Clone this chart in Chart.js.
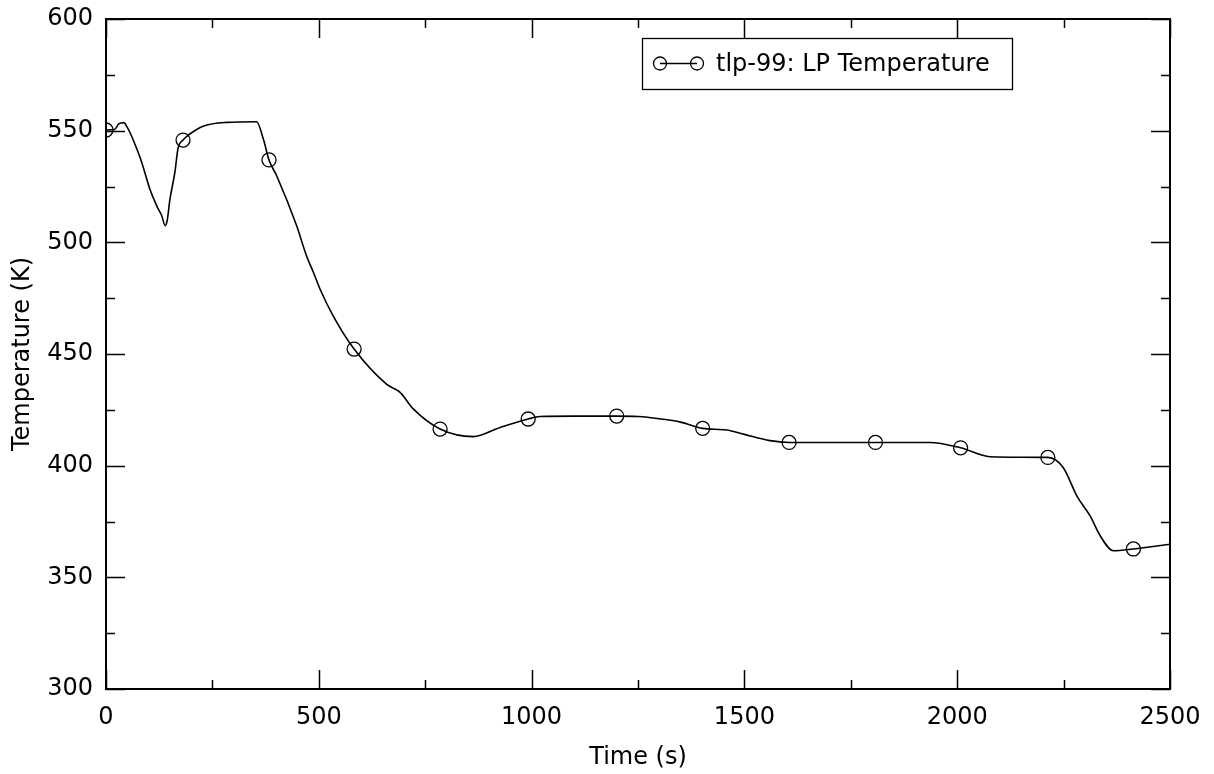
<!DOCTYPE html>
<html>
<head>
<meta charset="utf-8">
<script src="https://cdn.jsdelivr.net/npm/chart.js@4/dist/chart.umd.min.js"></script>
<style>
html,body{margin:0;padding:0;background:#fff;}
#wrap{width:1214px;height:774px;}
</style>
</head>
<body>
<div id="wrap"><canvas id="c" width="1214" height="774"></canvas></div>
<script>
// ---- data ----
const seriesLabel = 'tlp-99: LP Temperature';
const lineTimes = [0,20,30,42,50,56,70,84,103,120,131,139,144,150,162,169,197,228,284,354,370,401,448,471,487,503,534,659,691,722,863,926,1020,1100,1250,1300,1350,1458,1500,1560,1700,1936,2077,2150,2249,2281,2312,2336,2367,2460,2500];
const lineTemps = [550.3,550.5,553,553.6,551.5,549.3,543,535.8,523.9,516,511.9,507.5,510,519,531.5,541.8,548.5,552,553.7,554,546,529.8,507.4,494,486.7,479,467,436.5,432.8,425.4,413,417.1,422,422.2,422,421,419.5,416,414,411.2,410.4,410.4,404,403.8,399.2,386.5,377.6,368.6,361.9,363.8,364.8];
const markerTimes = [0,181,383,583,785,992,1200,1402,1605,1808,2008,2213,2414];
const markerTemps = [550.3,545.8,536.9,452.2,416.4,420.9,422.2,416.7,410.4,410.4,408,403.7,362.7];
const xTickValues = [0,500,1000,1500,2000,2500];
const yTickValues = [300,350,400,450,500,550,600];
const xTitle = 'Time (s)';
const yTitle = 'Temperature (K)';

// merge line + marker points
const pts = [];
lineTimes.forEach((t,i)=>pts.push({x:t,y:lineTemps[i],m:false}));
markerTimes.forEach((t,i)=>pts.push({x:t,y:markerTemps[i],m:true}));
pts.sort((a,b)=>a.x-b.x);

const FONT = {family:'"DejaVu Sans", sans-serif', size:24};

const frameTicks = {
  id:'frameTicks',
  afterDatasetsDraw(chart){
    const {ctx, chartArea:a, scales:{x,y}} = chart;
    ctx.save();
    ctx.strokeStyle = '#000';
    ctx.lineWidth = 1.5;
    ctx.beginPath();
    for(let v=300; v<=600; v+=25){
      const py = Math.round(y.getPixelForValue(v))+0.5;
      const L = (v%50===0)?19:9;
      ctx.moveTo(a.left,py); ctx.lineTo(a.left+L,py);
      ctx.moveTo(a.right,py); ctx.lineTo(a.right-L,py);
    }
    for(let v=0; v<=2500; v+=250){
      const px = Math.round(x.getPixelForValue(v))+0.5;
      const L = (v%500===0)?19:9;
      ctx.moveTo(px,a.bottom); ctx.lineTo(px,a.bottom-L);
      ctx.moveTo(px,a.top); ctx.lineTo(px,a.top+L);
    }
    ctx.stroke();
    ctx.lineWidth = 2;
    ctx.strokeRect(a.left, a.top, a.right-a.left, a.bottom-a.top);
    // legend box
    const bx=642, by=38, bw=370, bh=51, cy=by+bh/2;
    ctx.lineWidth = 1.3;
    ctx.strokeRect(bx+0.5, by+0.5, bw, bh);
    ctx.beginPath();
    ctx.moveTo(660,cy); ctx.lineTo(697,cy);
    ctx.stroke();
    ctx.beginPath(); ctx.arc(660,cy,6.5,0,Math.PI*2); ctx.stroke();
    ctx.beginPath(); ctx.arc(697,cy,6.5,0,Math.PI*2); ctx.stroke();
    ctx.fillStyle='#000';
    ctx.font = '24px "DejaVu Sans", sans-serif';
    ctx.textBaseline='middle';
    ctx.textAlign='left';
    ctx.fillText(chart.data.datasets[0].label, 716, cy+1);
    ctx.restore();
  }
};

new Chart(document.getElementById('c'), {
  type:'line',
  data:{datasets:[{
    label: seriesLabel,
    data: pts,
    borderColor:'#000',
    borderWidth:1.6,
    cubicInterpolationMode:'monotone',
    fill:false,
    pointRadius: c => (c.raw && c.raw.m) ? 7 : 0,
    pointHoverRadius: 0,
    pointBorderColor:'#000',
    pointBackgroundColor:'rgba(0,0,0,0)',
    pointBorderWidth:1.3
  }]},
  options:{
    responsive:false,
    animation:false,
    events:[],
    layout:{padding:{top:19,right:44,left:0,bottom:0}},
    plugins:{legend:{display:false},tooltip:{enabled:false}},
    scales:{
      x:{
        type:'linear', min:0, max:2500,
        afterBuildTicks: s => { s.ticks = xTickValues.map(v=>({value:v})); },
        afterFit: s => { s.height = 85; s.paddingLeft = 0; s.paddingRight = 0; },
        grid:{display:false, drawTicks:false, tickLength:0},
        border:{display:false},
        ticks:{color:'#000', font:FONT, padding:14, maxRotation:0, autoSkip:false, callback: v => String(v)},
        title:{display:true, text:xTitle, color:'#000', font:FONT, padding:{top:0,bottom:2}}
      },
      y:{
        type:'linear', min:300, max:600,
        afterBuildTicks: s => { s.ticks = yTickValues.map(v=>({value:v})); },
        afterFit: s => { s.width = 106; s.paddingTop = 0; s.paddingBottom = 0; },
        grid:{display:false, drawTicks:false, tickLength:0},
        border:{display:false},
        ticks:{color:'#000', font:FONT, padding:13, autoSkip:false, callback: v => String(v)},
        title:{display:true, text:yTitle, color:'#000', font:FONT, padding:{top:8,bottom:0}}
      }
    }
  },
  plugins:[frameTicks]
});
</script>
</body>
</html>
